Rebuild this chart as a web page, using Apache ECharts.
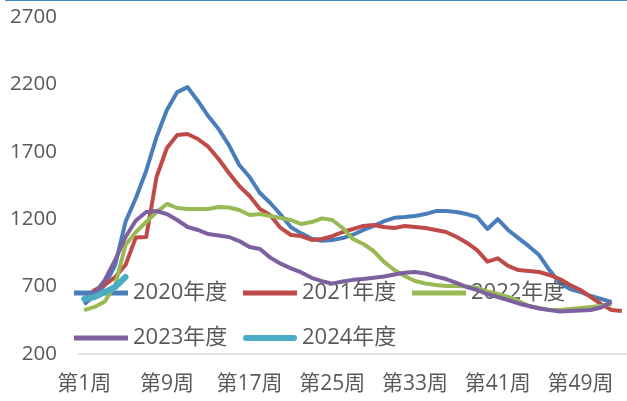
<!DOCTYPE html>
<html>
<head>
<meta charset="utf-8">
<script src="https://cdn.jsdelivr.net/npm/echarts@6/dist/echarts.min.js"></script>
<style>html,body{margin:0;padding:0;background:#fff;}#c{width:627px;height:401px;}</style>
</head>
<body>
<div id="c"></div>
<script>
// ---- data ----
var weeks = [];
for (var i = 1; i <= 53; i++) weeks.push('第' + i + '周');
var seriesNames = ['2020年度', '2021年度', '2022年度', '2023年度', '2024年度'];
var y2020 = [570, 630, 712, 860, 1180, 1357, 1560, 1810, 2010, 2143, 2180, 2077, 1965, 1869, 1750, 1602, 1513, 1394, 1320, 1235, 1140, 1095, 1055, 1040, 1045, 1060, 1085, 1120, 1150, 1185, 1210, 1216, 1224, 1238, 1260, 1260, 1253, 1238, 1216, 1127, 1200, 1120, 1060, 1000, 934, 823, 727, 682, 660, 630, 608, 586];
var y2021 = [610, 675, 712, 771, 860, 1065, 1068, 1513, 1728, 1825, 1832, 1795, 1738, 1647, 1543, 1446, 1372, 1276, 1230, 1135, 1083, 1075, 1046, 1053, 1075, 1105, 1127, 1150, 1157, 1142, 1135, 1150, 1142, 1135, 1120, 1105, 1070, 1026, 971, 885, 910, 853, 823, 816, 808, 786, 756, 712, 675, 623, 570, 526, 519];
var y2022 = [526, 549, 590, 712, 1009, 1105, 1179, 1253, 1313, 1283, 1276, 1276, 1276, 1290, 1287, 1268, 1231, 1238, 1224, 1209, 1194, 1164, 1179, 1206, 1194, 1135, 1053, 1016, 964, 883, 823, 779, 742, 723, 712, 705, 705, 700, 690, 665, 645, 624, 593, 556, 541, 526, 526, 534, 541, 549, 556, 571];
var y2023 = [590, 645, 749, 897, 1068, 1190, 1253, 1261, 1238, 1194, 1142, 1120, 1090, 1079, 1068, 1038, 994, 979, 915, 870, 835, 805, 765, 740, 722, 738, 750, 756, 766, 775, 790, 803, 808, 797, 775, 756, 727, 697, 675, 645, 623, 600, 575, 556, 538, 526, 515, 519, 523, 526, 545, 586];
var y2024 = [608, 623, 660, 697, 771];
var yTicks = [200, 700, 1200, 1700, 2200, 2700];

var colors = ['#4A7EBB', '#BE4B48', '#98B954', '#7D60A0', '#4BACC6'];
var FONT = "'Open Sans','Noto Sans CJK SC',sans-serif";
var chart = echarts.init(document.getElementById('c'), null, {renderer: 'canvas'});

var legendPos = [
  {left: 74, top: 282},
  {left: 243, top: 282},
  {left: 412, top: 282},
  {left: 74, top: 327},
  {left: 243, top: 327}
];
var capsule = 'path://M3,0 L51,0 A3,3 0 0 1 51,6 L3,6 A3,3 0 0 1 3,0 Z';
var legends = seriesNames.map(function (n, k) {
  return {
    show: true,
    data: [n], left: legendPos[k].left, top: legendPos[k].top, padding: 0,
    itemWidth: 54, itemHeight: k === 4 ? 6 : 5,
    icon: k === 4 ? capsule : 'rect',
    textStyle: {fontFamily: FONT, fontSize: 22, color: '#595959', lineHeight: 22},
    selectedMode: false
  };
});

var all = [y2020, y2021, y2022, y2023, y2024];
var series = all.map(function (d, k) {
  return {
    name: seriesNames[k], type: 'line', data: d, showSymbol: false, symbol: 'none',
    smooth: false, animation: false,
    lineStyle: {color: colors[k], width: k === 4 ? 6 : 4, cap: k === 4 ? 'round' : 'butt', join: 'round'},
    itemStyle: {color: colors[k]}, z: 2 + k
  };
});

chart.setOption({
  animation: false,
  color: colors,
  legend: legends,
  graphic: [{type: 'rect', shape: {x: 5, y: 0, width: 622, height: 1}, style: {fill: '#3E86C8'}}],
  grid: {left: 79, top: 17, width: 550, height: 337},
  xAxis: {
    type: 'category', data: weeks, boundaryGap: true,
    axisLine: {lineStyle: {color: '#D9D9D9', width: 1.5}},
    axisTick: {show: false},
    axisLabel: {interval: 7, margin: 20, fontFamily: FONT, fontSize: 21, color: '#595959'}
  },
  yAxis: {
    type: 'value', min: yTicks[0], max: yTicks[yTicks.length - 1], interval: 500,
    axisLine: {show: false}, axisTick: {show: false}, splitLine: {show: false},
    axisLabel: {margin: 22, fontFamily: FONT, fontSize: 20.5, color: '#595959',
      formatter: function (v) { return String(v); }}
  },
  series: series
});
</script>
</body>
</html>
